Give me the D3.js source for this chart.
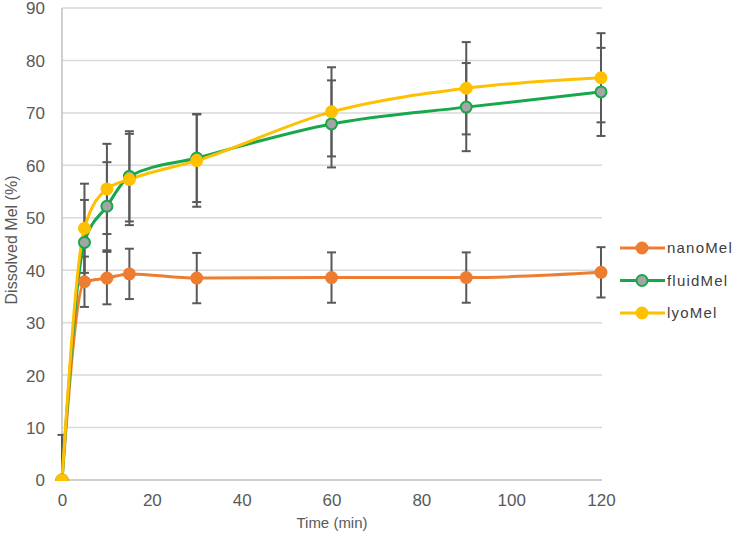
<!DOCTYPE html>
<html>
<head>
<meta charset="utf-8">
<script src="https://cdn.jsdelivr.net/npm/d3@7"></script>
<style>
  body { margin: 0; background: #fff; }
  svg { display: block; }
</style>
</head>
<body>
<svg id="chart" width="735" height="545"></svg>
<script>
var times = [0, 5, 10, 15, 30, 60, 90, 120];
var nanoMel = [0, 37.8, 38.5, 39.3, 38.5, 38.6, 38.6, 39.6];
var nanoErr = [0, 4.8, 5.0, 4.8, 4.8, 4.8, 4.8, 4.8];
var fluidMel = [0, 45.3, 52.2, 57.9, 61.4, 67.9, 71.1, 74.0];
var fluidErr = [0, 8.1, 8.4, 8.6, 8.4, 8.3, 8.4, 8.4];
var lyoMel = [0, 48.0, 55.5, 57.3, 60.9, 70.2, 74.7, 76.7];
var lyoErr = [8.6, 8.5, 8.6, 8.7, 8.8, 8.5, 8.8, 8.5];
var seriesNames = ["nanoMel", "fluidMel", "lyoMel"];
var xTicks = [0, 20, 40, 60, 80, 100, 120];
var yTicks = [0, 10, 20, 30, 40, 50, 60, 70, 80, 90];

var svg = d3.select("#chart");

var x = d3.scaleLinear().domain([0, 120]).range([62, 601]);
var y = d3.scaleLinear().domain([0, 90]).range([480, 8]);

var series = [
	{ name: seriesNames[0], vals: nanoMel, err: nanoErr, color: "#ED7D31", fill: "#ED7D31" },
	{ name: seriesNames[1], vals: fluidMel, err: fluidErr, color: "#16A84B", fill: "#A5A5A5" },
	{ name: seriesNames[2], vals: lyoMel, err: lyoErr, color: "#FFC000", fill: "#FFC000" }
];

svg.append("clipPath").attr("id", "plotclip")
	.append("rect").attr("x", 40).attr("y", 0).attr("width", 600).attr("height", 481);

// gridlines
svg.append("g").selectAll("line")
	.data(yTicks.filter(function(d) { return d > 0; }))
	.enter().append("line")
	.attr("x1", x(0)).attr("x2", x(120) + 1)
	.attr("y1", function(d) { return y(d); })
	.attr("y2", function(d) { return y(d); })
	.attr("stroke", "#D9D9D9").attr("stroke-width", 1.5);

// axes
svg.append("line").attr("x1", x(0)).attr("x2", x(0)).attr("y1", y(90)).attr("y2", y(0))
	.attr("stroke", "#BFBFBF").attr("stroke-width", 1.5);
svg.append("line").attr("x1", x(0)).attr("x2", x(120) + 1).attr("y1", y(0)).attr("y2", y(0))
	.attr("stroke", "#BFBFBF").attr("stroke-width", 1.5);

var yAxis = svg.append("g")
	.attr("transform", "translate(" + (x(0) - 17) + ",0)")
	.call(d3.axisLeft(y).tickValues(yTicks).tickSize(0).tickPadding(0));
var xAxis = svg.append("g")
	.attr("transform", "translate(0," + (y(0) + 12) + ")")
	.call(d3.axisBottom(x).tickValues(xTicks).tickSize(0).tickPadding(0));
[yAxis, xAxis].forEach(function(a) {
	a.select(".domain").remove();
	a.selectAll("text")
		.attr("fill", "#595959")
		.style("font-family", "'Liberation Sans Narrow', 'Liberation Sans', sans-serif")
		.style("font-size", "17px");
});
yAxis.selectAll("text").attr("dy", "0.35em");
xAxis.selectAll("text").attr("dy", "0.8em");

svg.append("text")
	.attr("transform", "translate(17,240) rotate(-90)")
	.attr("text-anchor", "middle")
	.attr("fill", "#595959")
	.style("font-family", "'Liberation Sans Narrow', 'Liberation Sans', sans-serif")
	.style("font-size", "16px")
	.text("Dissolved Mel (%)");

svg.append("text")
	.attr("x", 332).attr("y", 528)
	.attr("text-anchor", "middle")
	.attr("fill", "#595959")
	.style("font-family", "'Liberation Sans Narrow', 'Liberation Sans', sans-serif")
	.style("font-size", "15px")
	.text("Time (min)");

var plot = svg.append("g").attr("clip-path", "url(#plotclip)");

// error bars
series.forEach(function(s) {
	var eg = plot.append("g").attr("stroke", "#595959").attr("stroke-width", 2);
	times.forEach(function(t, i) {
		if (!s.err[i]) return;
		var hi = s.vals[i] + s.err[i], lo = s.vals[i] - s.err[i];
		eg.append("line").attr("x1", x(t)).attr("x2", x(t)).attr("y1", y(hi)).attr("y2", y(lo));
		eg.append("line").attr("x1", x(t) - 4.5).attr("x2", x(t) + 4.5).attr("y1", y(hi)).attr("y2", y(hi));
		eg.append("line").attr("x1", x(t) - 4.5).attr("x2", x(t) + 4.5).attr("y1", y(lo)).attr("y2", y(lo));
	});
});

var line = d3.line()
	.x(function(d) { return x(d[0]); })
	.y(function(d) { return y(d[1]); })
	.curve(d3.curveMonotoneX);

series.forEach(function(s) {
	var pts = times.map(function(t, i) { return [t, s.vals[i]]; });
	plot.append("path")
		.attr("d", line(pts))
		.attr("fill", "none")
		.attr("stroke", s.color)
		.attr("stroke-width", 3);
});

series.forEach(function(s) {
	plot.append("g").selectAll("circle")
		.data(times.map(function(t, i) { return [t, s.vals[i]]; }))
		.enter().append("circle")
		.attr("cx", function(d) { return x(d[0]); })
		.attr("cy", function(d) { return y(d[1]); })
		.attr("r", 5.5)
		.attr("fill", s.fill)
		.attr("stroke", s.color)
		.attr("stroke-width", 2);
});

// legend
var legend = svg.append("g");
series.forEach(function(s, i) {
	var ly = 248 + i * 32.5;
	legend.append("line").attr("x1", 620).attr("x2", 665).attr("y1", ly).attr("y2", ly)
		.attr("stroke", s.color).attr("stroke-width", 3);
	legend.append("circle").attr("cx", 642).attr("cy", ly).attr("r", 5.5)
		.attr("fill", s.fill).attr("stroke", s.color).attr("stroke-width", 2);
	legend.append("text").attr("x", 667).attr("y", ly).attr("dy", "0.35em")
		.attr("fill", "#404040")
		.style("font-family", "'Liberation Sans', Arial, sans-serif")
		.style("font-size", "15px")
		.style("letter-spacing", "1.2px")
		.text(s.name);
});
</script>
</body>
</html>
